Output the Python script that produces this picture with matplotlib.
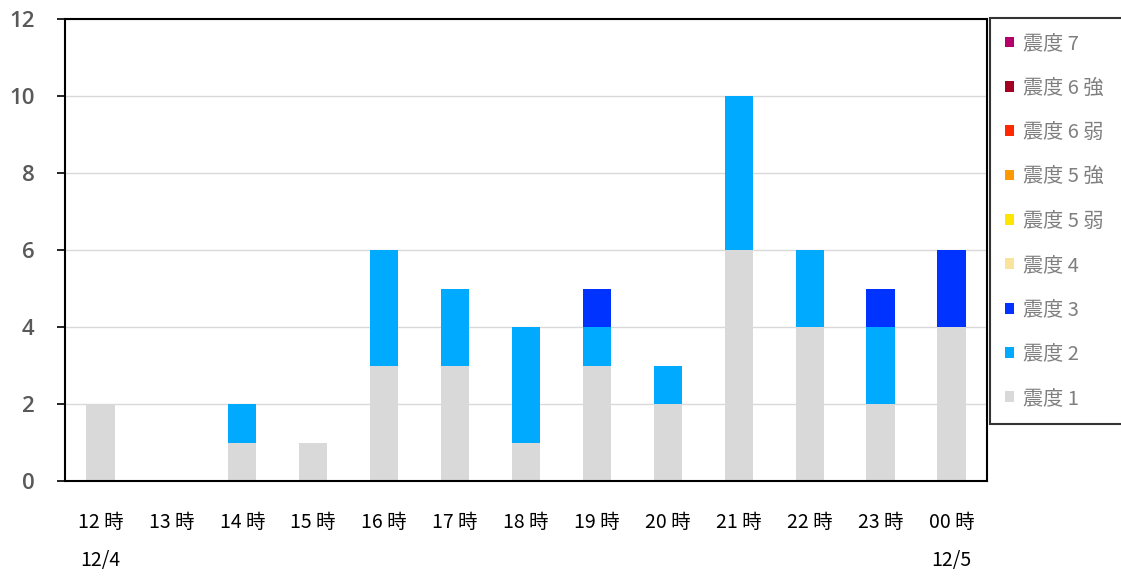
import matplotlib
matplotlib.use('Agg')
import matplotlib.pyplot as plt
import numpy as np

plt.rcParams['font.family'] = ['Noto Sans CJK JP', 'DejaVu Sans']

hours = ['12 時', '13 時', '14 時', '15 時', '16 時', '17 時', '18 時',
         '19 時', '20 時', '21 時', '22 時', '23 時', '00 時']
dates = {0: '12/4', 12: '12/5'}

levels = ['震度 1', '震度 2', '震度 3', '震度 4', '震度 5 弱', '震度 5 強',
          '震度 6 弱', '震度 6 強', '震度 7']
colors = ['#D9D9D9', '#00AAFF', '#0033FF', '#FAE39B', '#FFE600', '#FF9900',
          '#FF2800', '#A50021', '#B40068']

shindo1 = [2, 0, 1, 1, 3, 3, 1, 3, 2, 6, 4, 2, 4]
shindo2 = [0, 0, 1, 0, 3, 2, 3, 1, 1, 4, 2, 2, 0]
shindo3 = [0, 0, 0, 0, 0, 0, 0, 1, 0, 0, 0, 1, 2]
zeros = [0] * 13
series = [shindo1, shindo2, shindo3, zeros, zeros, zeros, zeros, zeros, zeros]

fig = plt.figure(figsize=(11.21, 5.76), dpi=100)
ax = fig.add_axes([65/1121, 1-481/576, 922/1121, 462/576])

x = np.arange(len(hours))
bottom = np.zeros(len(hours))
handles = []
for vals, lab, c in zip(series, levels, colors):
    vals = np.array(vals, dtype=float)
    b = ax.bar(x, vals, 0.4, bottom=bottom, color=c, label=lab, zorder=2)
    handles.append(b)
    bottom += vals

ax.set_xlim(-0.5, 12.5)
ax.set_ylim(0, 12)
ax.set_yticks(range(0, 13, 2))
ax.grid(axis='y', color='#D9D9D9', linewidth=1, zorder=0)
for s in ax.spines.values():
    s.set_color('black')
    s.set_linewidth(1.5)

ax.tick_params(axis='y', direction='out', length=6, width=1.2, colors='black',
               labelcolor='#595959', labelsize=16, pad=16)
for t in ax.get_yticklabels():
    t.set_fontfamily(['Open Sans', 'DejaVu Sans'])
    t.set_fontweight('semibold')
ax.tick_params(axis='x', length=0, labelsize=14, pad=22)
ax.set_xticks(x)
ax.set_xticklabels(hours)
for i, d in dates.items():
    ax.text(i, -0.171, d, transform=ax.get_xaxis_transform(), ha='center',
            va='center', fontsize=14)

# legend box runs past the right edge of the picture, as in the original
leg = fig.legend(handles[::-1], levels[::-1], loc='upper left',
                 bbox_to_anchor=(990/1121, 1-18/576, 150/1121, 0.0),
                 mode='expand', frameon=True,
                 fancybox=False, edgecolor='black', fontsize=14.5,
                 labelcolor='#7F7F7F', handlelength=0.45, handleheight=0.45,
                 handletextpad=0.45, labelspacing=1.16, borderpad=0.75,
                 borderaxespad=0)
leg.get_frame().set_linewidth(1.5)

fig.savefig('out.png', dpi=100)
